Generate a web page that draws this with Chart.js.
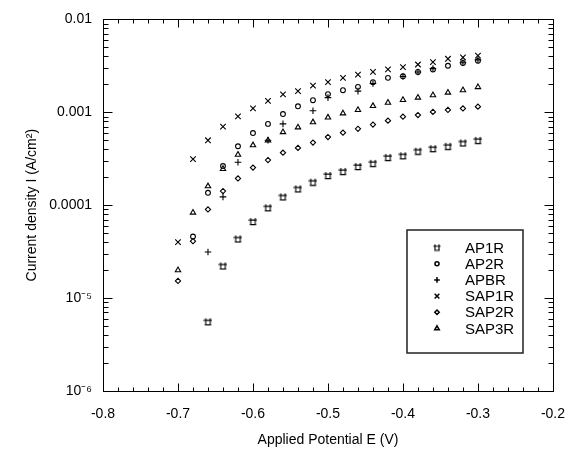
<!DOCTYPE html>
<html>
<head>
<meta charset="utf-8">
<title>Current density vs applied potential</title>
<script src="https://cdn.jsdelivr.net/npm/chart.js@4.4.1/dist/chart.umd.min.js"></script>
<style>
    html, body { margin: 0; padding: 0; background: #fff; }
    #chart-container { width: 580px; height: 450px; }
</style>
</head>
<body>
<div id="chart-container"><canvas id="chart" width="580" height="450"></canvas></div>
<script>
// applied potential (V), one entry per measurement step
const potentials = [-0.70, -0.68, -0.66, -0.64, -0.62, -0.60, -0.58, -0.56, -0.54, -0.52, -0.50,
                    -0.48, -0.46, -0.44, -0.42, -0.40, -0.38, -0.36, -0.34, -0.32, -0.30];

// current density (A/cm2), null = no point at that potential
const ap1r = [null, null, 5.57e-6, 2.22e-5, 4.34e-5, 6.68e-5, 9.4e-5, 1.23e-4, 1.50e-4, 1.77e-4, 2.09e-4,
              2.31e-4, 2.61e-4, 2.82e-4, 3.27e-4, 3.41e-4, 3.82e-4, 4.07e-4, 4.31e-4, 4.68e-4, 4.99e-4];
const ap2r = [null, 4.6e-5, 1.36e-4, 2.64e-4, 4.31e-4, 5.98e-4, 7.5e-4, 9.58e-4, 1.16e-3, 1.35e-3, 1.57e-3,
              1.73e-3, 1.88e-3, 2.11e-3, 2.35e-3, 2.44e-3, 2.72e-3, 2.88e-3, 3.17e-3, 3.39e-3, 3.58e-3];
const apbr = [null, null, 3.13e-5, 1.23e-4, 2.90e-4, null, 5.0e-4, 7.5e-4, null, 1.04e-3, 1.44e-3,
              null, 1.69e-3, 2.04e-3, null, 2.43e-3, 2.72e-3, 2.95e-3, null, 3.41e-3, 3.67e-3];
const sap1r = [4.0e-5, 3.14e-4, 5.0e-4, 7.0e-4, 9.05e-4, 1.10e-3, 1.33e-3, 1.56e-3, 1.69e-3, 1.94e-3, 2.11e-3,
               2.35e-3, 2.55e-3, 2.72e-3, 2.90e-3, 3.07e-3, 3.27e-3, 3.47e-3, 3.77e-3, 3.89e-3, 4.08e-3];
const sap2r = [1.53e-5, 4.1e-5, 9.0e-5, 1.42e-4, 1.94e-4, 2.54e-4, 3.06e-4, 3.67e-4, 4.14e-4, 4.72e-4, 5.42e-4,
               6.03e-4, 6.64e-4, 7.38e-4, 8.13e-4, 8.97e-4, 9.35e-4, 1.01e-3, 1.06e-3, 1.10e-3, 1.15e-3];
const sap3r = [2.0e-5, 8.32e-5, 1.60e-4, 2.46e-4, 3.5e-4, 4.42e-4, 4.99e-4, 6.12e-4, 6.89e-4, 7.82e-4, 8.80e-4,
               9.75e-4, 1.06e-3, 1.17e-3, 1.27e-3, 1.36e-3, 1.44e-3, 1.53e-3, 1.63e-3, 1.73e-3, 1.87e-3];

const seriesNames = ['AP1R', 'AP2R', 'APBR', 'SAP1R', 'SAP2R', 'SAP3R'];

// axis ticks
const xTickValues = [-0.8, -0.7, -0.6, -0.5, -0.4, -0.3, -0.2];
const decadeExponents = [-6, -5, -4, -3, -2];
const decadeLabels = ['10\u207B\u2076', '10\u207B\u2075', '0.0001', '0.001', '0.01'];

const fontFamily = '"Liberation Sans", Arial, Helvetica, sans-serif';

window.onload = function() {
    createChart();
}

function makeBoxMarker(size) {
    // open box with the lid running past the sides and posts sticking up
    const c = document.createElement('canvas');
    c.width = size;
    c.height = size;
    const g = c.getContext('2d');
    const k = size / 10;
    g.strokeStyle = '#000';
    g.lineWidth = 1.1;
    g.beginPath();
    g.moveTo(0.5 * k, 3.5 * k); g.lineTo(9.5 * k, 3.5 * k);
    g.moveTo(1.5 * k, 8.5 * k); g.lineTo(8.5 * k, 8.5 * k);
    g.moveTo(2.5 * k, 1 * k); g.lineTo(2.5 * k, 8.5 * k);
    g.moveTo(7.5 * k, 1 * k); g.lineTo(7.5 * k, 8.5 * k);
    g.stroke();
    return c;
}

function toPoints(values) {
    const points = [];
    values.forEach((v, i) => {
        if (v !== null) {
            points.push({ x: potentials[i], y: v });
        }
    });
    return points;
}

const frameTicksLegend = {
    id: 'frameTicksLegend',
    afterDraw(chart) {
        const ctx = chart.ctx;
        const area = chart.chartArea;
        const xs = chart.scales.x;
        const ys = chart.scales.y;
        const left = Math.round(area.left) + 0.5;
        const right = Math.round(area.right) + 0.5;
        const top = Math.round(area.top) + 0.5;
        const bottom = Math.round(area.bottom) + 0.5;

        ctx.save();
        ctx.strokeStyle = '#000';
        ctx.lineWidth = 1;
        ctx.strokeRect(left, top, right - left, bottom - top);

        ctx.beginPath();
        // x ticks every 0.02, longer every 0.1
        for (let i = 0; i <= 30; i++) {
            const px = Math.round(xs.getPixelForValue(-0.8 + i * 0.02)) + 0.5;
            const len = i % 5 === 0 ? 8 : 4;
            ctx.moveTo(px, bottom); ctx.lineTo(px, bottom - len);
            ctx.moveTo(px, top); ctx.lineTo(px, top + len);
        }
        // y ticks at 1..9 of each decade
        for (let e = -6; e <= -2; e++) {
            for (let m = 1; m <= 9; m++) {
                if (e === -2 && m > 1) {
                    break;
                }
                const py = Math.round(ys.getPixelForValue(m * Math.pow(10, e))) + 0.5;
                const len = m === 1 ? 9 : 5;
                ctx.moveTo(left, py); ctx.lineTo(left + len, py);
                ctx.moveTo(right, py); ctx.lineTo(right - len, py);
            }
        }
        ctx.stroke();

        // legend box
        ctx.strokeStyle = '#222';
        ctx.lineWidth = 1.5;
        ctx.strokeRect(407, 230, 116, 123);

        ctx.font = '15px ' + fontFamily;
        ctx.textBaseline = 'middle';
        ctx.textAlign = 'left';
        const legendStyles = [makeBoxMarker(8), 'circle', 'cross', 'crossRot', 'rectRot', 'triangle'];
        chart.data.datasets.forEach((ds, i) => {
            const my = 247.5 + i * 16.2;
            ctx.strokeStyle = '#000';
            ctx.fillStyle = 'rgba(0,0,0,0)';
            if (Chart.helpers && Chart.helpers.drawPoint) {
                Chart.helpers.drawPoint(ctx, {
                    pointStyle: legendStyles[i],
                    radius: ds.pointRadius * 0.85,
                    rotation: 0,
                    borderWidth: ds.borderWidth,
                }, 437, my);
            }
            ctx.fillStyle = '#000';
            ctx.fillText(ds.label, 465, my + 1);
        });
        ctx.restore();
    },
};

function createChart() {
    const canvas = document.querySelector('#chart');
    const styles = [makeBoxMarker(9), 'circle', 'cross', 'crossRot', 'rectRot', 'triangle'];
    const radii = [3, 2.4, 3.3, 3.9, 2.6, 3.1];
    const values = [ap1r, ap2r, apbr, sap1r, sap2r, sap3r];

    const datasets = seriesNames.map((name, i) => {
        return {
            label: name,
            data: toPoints(values[i]),
            pointStyle: styles[i],
            pointRadius: radii[i],
            pointHoverRadius: radii[i],
            borderColor: '#000',
            backgroundColor: 'rgba(0,0,0,0)',
            borderWidth: 1.1,
            showLine: false,
        };
    });

    const tickFont = { family: fontFamily, size: 14 };

    new Chart(canvas, {
        type: 'scatter',
        data: { datasets: datasets },
        options: {
            responsive: false,
            animation: false,
            layout: { padding: { left: 16, right: 15, top: 14, bottom: 0 } },
            plugins: {
                legend: { display: false },
                tooltip: { enabled: false },
            },
            scales: {
                x: {
                    type: 'linear',
                    min: -0.8,
                    max: -0.2,
                    border: { display: false },
                    grid: { display: false, drawTicks: false },
                    afterBuildTicks: scale => {
                        scale.ticks = xTickValues.map(v => ({ value: v }));
                    },
                    afterFit: scale => { scale.height = 59; },
                    ticks: {
                        color: '#000',
                        font: tickFont,
                        padding: 15,
                        autoSkip: false,
                        maxRotation: 0,
                        callback: value => value.toFixed(1),
                    },
                    title: {
                        display: true,
                        text: 'Applied Potential E (V)',
                        color: '#000',
                        font: tickFont,
                        padding: { top: 0, bottom: 1 },
                    },
                },
                y: {
                    type: 'logarithmic',
                    min: 1e-6,
                    max: 1e-2,
                    border: { display: false },
                    grid: { display: false, drawTicks: false },
                    afterBuildTicks: scale => {
                        scale.ticks = decadeExponents.map(e => ({ value: Math.pow(10, e) }));
                    },
                    afterFit: scale => { scale.width = 87; },
                    ticks: {
                        color: '#000',
                        font: tickFont,
                        padding: 11,
                        autoSkip: false,
                        callback: (value, index) => decadeLabels[index],
                    },
                    title: {
                        display: true,
                        text: 'Current density I (A/cm\u00B2)',
                        color: '#000',
                        font: tickFont,
                        padding: { top: 8, bottom: 0 },
                    },
                },
            },
        },
        plugins: [frameTicksLegend],
    });
}
</script>
</body>
</html>
